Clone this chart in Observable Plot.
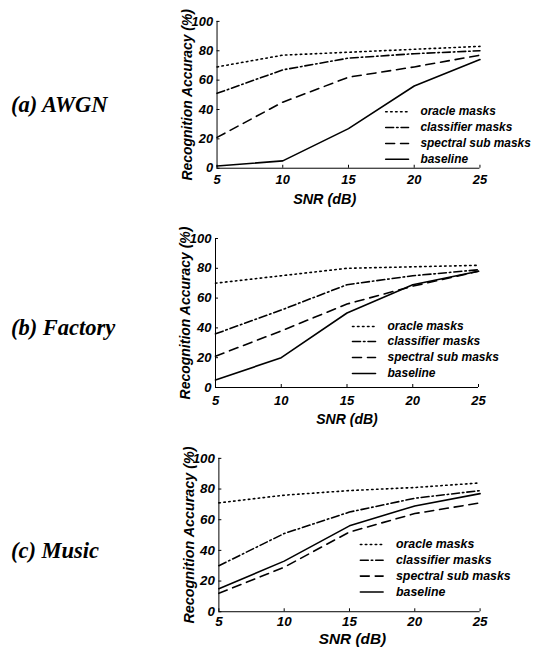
<!DOCTYPE html>
<html><head><meta charset="utf-8">
<script src="https://cdn.jsdelivr.net/npm/d3@7"></script>
<script src="https://cdn.jsdelivr.net/npm/@observablehq/plot@0.6"></script>
<style>
body{margin:0;background:#fff;}
#root{position:relative;width:537px;height:647px;overflow:hidden;background:#fff;}
.plabel{position:absolute;font-family:"Liberation Serif","Times New Roman",serif;font-weight:bold;font-style:italic;font-size:22.5px;line-height:22px;white-space:nowrap;color:#000;}
.panel{position:absolute;}
</style></head><body><div id="root"></div>
<script>
// ---- data ----
const snr = [5, 10, 15, 20, 25];
const seriesNames = ["oracle masks", "classifier masks", "spectral sub masks", "baseline"];
const panelTitles = ["(a) AWGN", "(b) Factory", "(c) Music"];
const xTicks = [5, 10, 15, 20, 25];
const yTicks = [0, 20, 40, 60, 80, 100];
const xLabel = "SNR (dB)";
const yLabel = "Recognition Accuracy (%)";

const awgnOracle     = [69, 77, 79, 81, 83];
const awgnClassifier = [51, 67, 75, 78, 80];
const awgnSpectral   = [21, 45, 62, 69, 77];
const awgnBaseline   = [1.5, 5, 27, 56, 74];

const factoryOracle     = [70, 75, 80, 81, 82];
const factoryClassifier = [36, 52, 69, 75, 79];
const factorySpectral   = [21, 38, 56, 68, 78];
const factoryBaseline   = [5, 20, 50, 69, 78];

const musicOracle     = [71, 76, 79, 81, 84];
const musicClassifier = [30, 51, 65, 74, 79];
const musicSpectral   = [12, 29, 52, 64, 71];
const musicBaseline   = [15, 33, 56, 69, 77];

const panelValues = [
  [awgnOracle, awgnClassifier, awgnSpectral, awgnBaseline],
  [factoryOracle, factoryClassifier, factorySpectral, factoryBaseline],
  [musicOracle, musicClassifier, musicSpectral, musicBaseline]
];

// ---- styles / layout ----
const dashes = ["1.5,3.5", "8,3,1.5,3", "9,6", null];
const font = "'Liberation Sans', Arial, Helvetica, sans-serif";
const geoms = [
  {xl:217, xr:482, yt:21,  yb:169, title:{left:11, top:94},  sw:-95,  tx:-60, rows:[-57,-41,-25,-9],  tick:13, tpad:7, legFont:12, xlFont:14.5, xlDx:-24, xlDy:31, ylFont:14},
  {xl:215, xr:478, yt:238, yb:387, title:{left:11, top:317}, sw:-126, tx:-91, rows:[-61,-46,-30,-14], tick:13, tpad:8, legFont:12, xlFont:14, xlDx:0, xlDy:32, ylFont:14},
  {xl:219, xr:483, yt:458, yb:613, title:{left:11, top:540}, sw:-121, tx:-85, rows:[-68,-52,-36,-20], tick:13.5, tpad:5, legFont:12.5, xlFont:15.5, xlDx:3, xlDy:28, ylFont:14.5}
];
const ML = 60, MR = 58, MT = 12, MB = 42;
const lineShape = {draw(context, l) { context.moveTo(0, 0); context.lineTo(0, -l); }};

const root = document.getElementById("root");

panelValues.forEach((values, p) => {
  const g = geoms[p];
  const fw = g.xr - g.xl, fh = g.yb - g.yt;
  const marks = [
    Plot.ruleX([xTicks[0]], {stroke: "black", strokeWidth: 1}),
    Plot.ruleY([yTicks[0]], {stroke: "black", strokeWidth: 1}),
    Plot.ruleX(xTicks, {x: d => d, insetTop: fh - 3, stroke: "black", strokeWidth: 1}),
    Plot.ruleY(yTicks, {y: d => d, insetRight: fw - 3, stroke: "black", strokeWidth: 1}),
    Plot.axisX({ticks: xTicks, tickSize: 0, tickPadding: g.tpad, fontSize: g.tick, label: null, tickFormat: d => String(d)}),
    Plot.axisY({ticks: yTicks, tickSize: 0, tickPadding: 4, fontSize: g.tick, label: null, tickFormat: d => String(d)}),
    Plot.text([yLabel], {frameAnchor: "left", text: d => d, rotate: -90, textAnchor: "middle", lineAnchor: "middle", dx: -30, fontSize: g.ylFont}),
    Plot.text([xLabel], {frameAnchor: "bottom", text: d => d, textAnchor: "middle", lineAnchor: "middle", dx: g.xlDx, dy: g.xlDy, fontSize: g.xlFont})
  ];
  seriesNames.forEach((name, s) => {
    const pts = snr.map((x, j) => ({snr: x, acc: values[s][j]}));
    marks.push(Plot.line(pts, {x: "snr", y: "acc", stroke: "black", strokeWidth: 1.6, strokeDasharray: dashes[s]}));
    marks.push(Plot.vector([name], {frameAnchor: "bottom-right", dx: g.sw, dy: g.rows[s], length: 23, rotate: 90, anchor: "start", shape: lineShape, stroke: "black", strokeWidth: 1.6, strokeDasharray: dashes[s]}));
    marks.push(Plot.text([name], {frameAnchor: "bottom-right", text: d => d, textAnchor: "start", lineAnchor: "middle", dx: g.tx, dy: g.rows[s], fontSize: g.legFont}));
  });
  const chart = Plot.plot({
    width: fw + ML + MR,
    height: fh + MT + MB,
    marginLeft: ML, marginRight: MR, marginTop: MT, marginBottom: MB,
    x: {domain: [5, 25]},
    y: {domain: [0, 100]},
    style: {fontFamily: font, fontWeight: "bold", fontStyle: "italic", color: "black", background: "transparent", overflow: "visible"},
    marks
  });
  const wrap = document.createElement("div");
  wrap.className = "panel";
  wrap.style.left = (g.xl - ML) + "px";
  wrap.style.top = (g.yt - MT) + "px";
  wrap.appendChild(chart);
  root.appendChild(wrap);

  const t = document.createElement("div");
  t.className = "plabel";
  t.style.left = g.title.left + "px";
  t.style.top = g.title.top + "px";
  t.textContent = panelTitles[p];
  root.appendChild(t);
});
</script>
</body></html>
